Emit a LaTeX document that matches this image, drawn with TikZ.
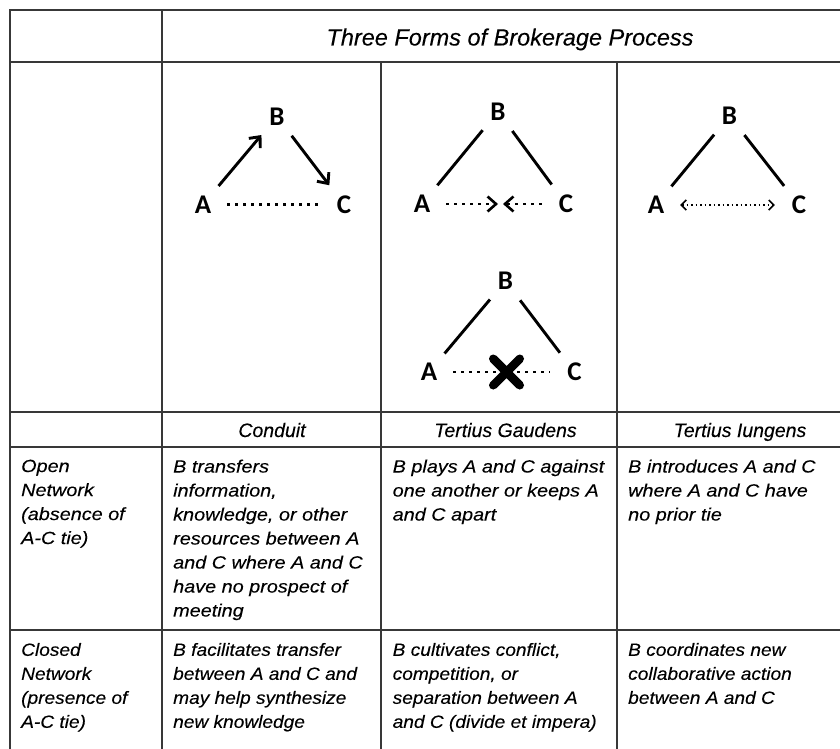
\documentclass[tikz,border=0pt]{standalone}
\usepackage{fontspec}
\setmainfont{Liberation Sans}[FakeBold=0.15]
\newfontfamily\bodyfont[FakeStretch=1.12,FakeBold=0.15]{Liberation Sans}
\newfontfamily\lowfont[FakeStretch=1.08,FakeBold=0.15]{Liberation Sans}
\newfontfamily\vtxfont{Carlito}
\usetikzlibrary{arrows.meta,shapes.misc}
\tikzset{
  >={Straight Barb[length=8.5pt,width=15pt]},
  tabline/.style={line width=1.8pt, draw=black!78},
  hd/.style     ={anchor=base, font=\itshape\fontsize{23.5}{28}\selectfont},
  lbl/.style    ={anchor=base, font=\itshape\fontsize{19.5}{24}\selectfont},
  cell/.style   ={anchor=north west, align=left, inner sep=0, font=\bodyfont\itshape\fontsize{17.7}{24}\selectfont},
  lcell/.style  ={cell, font=\lowfont\itshape\fontsize{17.7}{24}\selectfont},
  vtx/.style    ={circle, inner sep=0, minimum size=48pt, font=\vtxfont\bfseries\fontsize{27}{30}\selectfont},
  tie/.style    ={line width=2.9pt},
  dotgap/.style ={line width=2.6pt, dash pattern=on 2.6pt off 5.4pt},
  weak/.style   ={line width=1.5pt, dash pattern=on 1.5pt off 3pt},
  nix/.style    ={cross out, draw, line width=8.5pt, line cap=round, minimum size=18pt, inner sep=0}
}

\begin{document}
\begin{tikzpicture}[x=1pt,y=-1pt]
\useasboundingbox (0,0) rectangle (840,749);
\clip (0,0) rectangle (840,749);
% table rules
\draw[tabline] (860,10) -- (10,10) -- (10,760);
\foreach \y in {62,412,447,630} \draw[tabline] (10,\y) -- (860,\y);
\draw[tabline] (162,10) -- (162,760);
\foreach \x in {381,617} \draw[tabline] (\x,62) -- (\x,760);

\node[hd] (title) at (510,45.5) {Three Forms of Brokerage Process};

% conduit
\node[vtx] (b1) at (277,116.5) {B};
\node[vtx] (a1) at (203,204.5) {A};
\node[vtx] (c1) at (344,204.5) {C};
\draw[tie,->] (a1) -- (b1);
\draw[tie,->] (b1) -- (c1);
\draw[dotgap] (a1) -- (c1);

% tertius gaudens, open
\node[vtx] (b2) at (498,111.5) {B};
\node[vtx] (a2) at (422,204) {A};
\node[vtx] (c2) at (566,204) {C};
\coordinate (m2) at (500.5,204);
\draw[tie] (a2) -- (b2) (b2) -- (c2);
\draw[dotgap,->,shorten >=2.5pt] (a2) -- (m2);
\draw[dotgap,->,shorten >=2.5pt] (c2) -- (m2);

% tertius iungens
\node[vtx] (b3) at (729.5,116) {B};
\node[vtx] (a3) at (656,205) {A};
\node[vtx] (c3) at (799,205) {C};
\draw[tie] (a3) -- (b3) (b3) -- (c3);
\draw[weak,<->,>={Straight Barb[length=5pt,width=10pt]}] (a3) -- (c3);

% tertius gaudens, closed
\node[vtx] (b4) at (505.5,281) {B};
\node[vtx] (a4) at (429,372) {A};
\node[vtx] (c4) at (574.5,372) {C};
\draw[tie] (a4) -- (b4) (b4) -- (c4);
\draw[dotgap] (a4) -- (c4);
\node[nix] (x4) at (506.5,372) {};

% column labels
\node[lbl] (l1) at (272,437) {Conduit};
\node[lbl] (l2) at (505.5,437) {Tertius Gaudens};
\node[lbl] (l3) at (740,437) {Tertius Iungens};

% open network row
\node[cell] (open) at (21,459.5) {Open\\Network\\(absence of\\A-C tie)};
\node[cell] (o1) at (173,459.5) {B transfers\\information,\\knowledge, or other\\resources between A\\and C where A and C\\have no prospect of\\meeting};
\node[cell] (o2) at (392.5,459.5) {B plays A and C against\\one another or keeps A\\and C apart};
\node[cell] (o3) at (628,459.5) {B introduces A and C\\where A and C have\\no prior tie};

% closed network row
\node[lcell] (closed) at (21,642.8) {Closed\\Network\\(presence of\\A-C tie)};
\node[lcell] (c1t) at (173,642.8) {B facilitates transfer\\between A and C and\\may help synthesize\\new knowledge};
\node[lcell] (c2t) at (392.5,642.8) {B cultivates conflict,\\competition, or\\separation between A\\and C (divide et impera)};
\node[lcell] (c3t) at (628,642.8) {B coordinates new\\collaborative action\\between A and C};
\end{tikzpicture}
\end{document}
